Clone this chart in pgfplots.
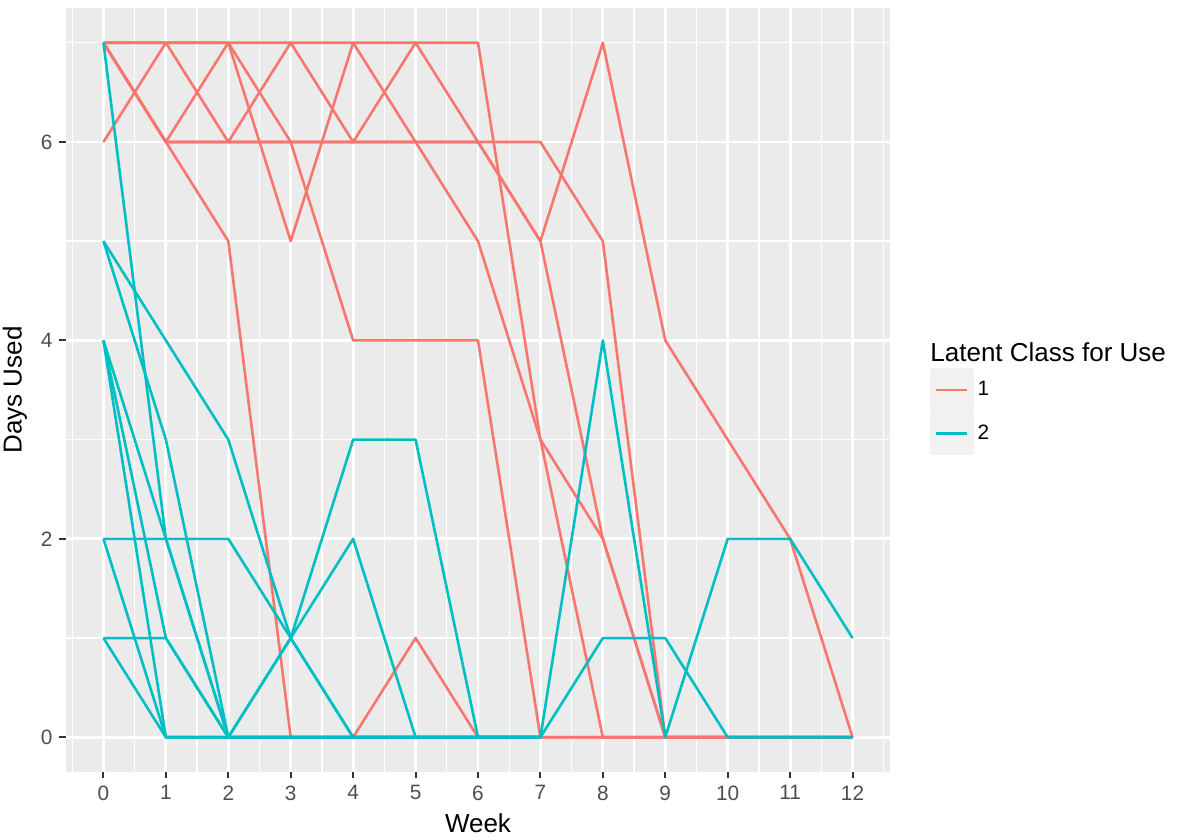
\documentclass[border=0pt]{standalone}
\usepackage{fontspec}
\setmainfont{Liberation Sans}
\usepackage{pgfplots}
\pgfplotsset{compat=1.18}
\definecolor{cOne}{HTML}{F8766D}
\definecolor{cTwo}{HTML}{00BFC4}
\definecolor{panel}{HTML}{EBEBEB}
\definecolor{keybg}{HTML}{F2F2F2}
\definecolor{ticktxt}{HTML}{4D4D4D}
\definecolor{tickcol}{HTML}{333333}

\begin{document}
\begin{tikzpicture}
\begin{axis}[
  at={(33pt,34pt)}, anchor=south west,
  width=412pt, height=382pt, scale only axis,
  xmin=-0.6, xmax=12.6, ymin=-0.35, ymax=7.35,
  axis background/.style={fill=panel},
  axis line style={draw=none},
  xtick={0,...,12}, ytick={0,2,4,6},
  minor xtick={-0.5,0.5,...,12.5}, minor ytick={1,3,5,7},
  xtick pos=bottom, ytick pos=left,
  grid=both,
  major grid style={white, line width=1.4pt},
  minor grid style={white, line width=0.7pt},
  tick align=outside, major tick length=3.25pt, minor tick length=0pt,
  every tick/.style={tickcol, line width=1pt},
  /pgf/number format/assume math mode=true,
  ticklabel style={font=\fontsize{10.4}{12}\selectfont, text=ticktxt},
  xlabel={Week}, ylabel={Days Used},
  label style={font=\fontsize{13}{15.6}\selectfont, text=black},
  legend style={at={(1.0485,0.5288)}, anchor=north west, draw=none, fill=none,
    inner sep=0pt, outer sep=0pt, row sep=0pt,
    font=\fontsize{10.4}{12}\selectfont,
    /tikz/every even column/.append style={column sep=5pt}},
  legend cell align=left,
  legend image code/.code={\fill[keybg] (0pt,-10.25pt) rectangle (20.5pt,10.25pt);
    \draw[#1] (2.5pt,0pt) -- (18pt,0pt);},
  every axis plot/.append style={line width=1.3pt, line join=round},
]
% class 1
\addplot[cOne, forget plot] coordinates {(0,7)(1,7)(2,7)(3,7)(4,7)(5,7)(6,7)(7,3)(8,0)(9,0)(10,0)(11,0)(12,0)};
\addplot[cOne, forget plot] coordinates {(0,6)(1,7)(2,7)(3,5)(4,7)(5,6)(6,5)(7,3)(8,2)(9,0)(10,0)(11,0)(12,0)};
\addplot[cOne, forget plot] coordinates {(0,7)(1,7)(2,6)(3,7)(4,6)(5,7)(6,6)(7,5)(8,7)(9,4)(10,3)(11,2)(12,0)};
\addplot[cOne, forget plot] coordinates {(0,7)(1,6)(2,7)(3,6)(4,4)(5,4)(6,4)(7,0)(8,0)(9,0)(10,0)(11,0)(12,0)};
\addplot[cOne, forget plot] coordinates {(0,7)(1,6)(2,6)(3,6)(4,6)(5,6)(6,6)(7,6)(8,5)(9,0)(10,0)(11,0)(12,0)};
\addplot[cOne, forget plot] coordinates {(0,7)(1,6)(2,5)(3,0)(4,0)(5,1)(6,0)(7,0)(8,0)(9,0)(10,0)(11,0)(12,0)};
\addplot[cOne, forget plot] coordinates {(0,7)(1,6)(2,6)(3,6)(4,6)(5,6)(6,6)(7,5)(8,2)(9,0)(10,0)(11,0)(12,0)};
% class 2
\addplot[cTwo, forget plot] coordinates {(0,7)(1,2)(2,0)(3,1)(4,2)(5,0)(6,0)(7,0)};
\addplot[cTwo, forget plot] coordinates {(0,5)(1,4)(2,3)(3,1)(4,0)(5,0)(6,0)(7,0)};
\addplot[cTwo, forget plot] coordinates {(0,5)(1,3)(2,0)(3,0)(4,0)(5,0)(6,0)(7,0)};
\addplot[cTwo, forget plot] coordinates {(0,4)(1,0)(2,0)(3,0)(4,0)(5,0)(6,0)(7,0)(8,4)(9,0)(10,2)(11,2)(12,1)};
\addplot[cTwo, forget plot] coordinates {(0,4)(1,1)(2,0)(3,0)(4,0)(5,0)(6,0)(7,0)};
\addplot[cTwo, forget plot] coordinates {(0,4)(1,2)(2,0)(3,1)(4,3)(5,3)(6,0)(7,0)};
\addplot[cTwo, forget plot] coordinates {(0,2)(1,0)(2,0)(3,0)(4,0)(5,0)(6,0)(7,0)};
\addplot[cTwo, forget plot] coordinates {(0,2)(1,2)(2,2)(3,1)(4,0)(5,0)(6,0)(7,0)};
\addplot[cTwo, forget plot] coordinates {(0,1)(1,0)(2,0)(3,0)(4,0)(5,0)(6,0)(7,0)(8,1)(9,1)(10,0)(11,0)(12,0)};
\addplot[cTwo, forget plot] coordinates {(0,1)(1,1)(2,0)(3,0)(4,0)(5,0)(6,0)(7,0)};
\addlegendimage{cOne, line width=1.3pt}
\addlegendentry{1}
\addlegendimage{cTwo, line width=1.3pt}
\addlegendentry{2}
\end{axis}
\node[anchor=base west, inner sep=0pt, font=\fontsize{13}{15.6}\selectfont] at (465pt,239pt) {Latent Class for Use};
\pgfresetboundingbox
\useasboundingbox (0,0) rectangle (591.5pt,420pt);
\end{tikzpicture}
\end{document}
